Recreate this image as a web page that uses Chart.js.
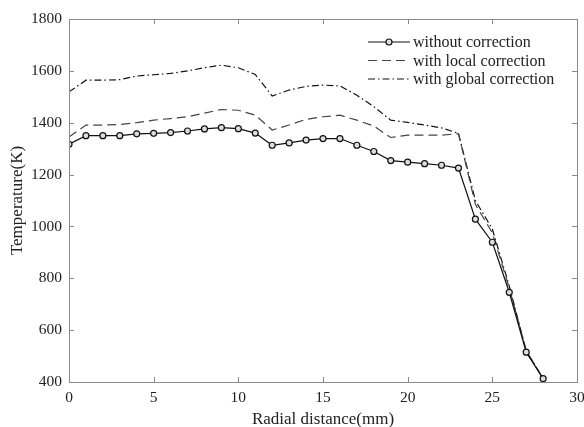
<!DOCTYPE html>
<html>
<head>
<meta charset="utf-8">
<script src="https://cdn.jsdelivr.net/npm/chart.js"></script>
<style>
  html, body { margin: 0; padding: 0; background: #fff; }
  canvas { display: block; }
</style>
</head>
<body>
<canvas id="chart" width="584" height="427"></canvas>
<script>
// radial distance in mm
const radius = [0, 1, 2, 3, 4, 5, 6, 7, 8, 9, 10, 11, 12, 13, 14, 15, 16, 17, 18, 19, 20, 21, 22, 23, 24, 25, 26, 27, 28];

// temperature (K)
const withoutCorrection = [1317, 1350, 1350, 1350, 1357, 1359, 1362, 1368, 1376, 1381, 1377, 1360, 1313, 1322, 1333, 1339, 1339, 1313, 1289, 1254, 1248, 1242, 1236, 1225, 1028, 939, 746, 515, 413];
const localCorrection = [1345, 1391, 1391, 1393, 1400, 1410, 1416, 1423, 1437, 1451, 1448, 1429, 1372, 1391, 1413, 1423, 1429, 1410, 1387, 1343, 1352, 1352, 1352, 1358, 1085, 975, 762, 522, 413];
const globalCorrection = [1519, 1564, 1564, 1566, 1580, 1585, 1590, 1600, 1612, 1622, 1612, 1586, 1503, 1526, 1540, 1545, 1542, 1506, 1462, 1410, 1401, 1391, 1380, 1359, 1100, 990, 770, 520, 413];

const xTicks = [0, 5, 10, 15, 20, 25, 30];
const yTicks = [400, 600, 800, 1000, 1200, 1400, 1600, 1800];

const seriesLabels = ['without correction', 'with local correction', 'with global correction'];

const serif = '"Liberation Serif", "Times New Roman", serif';
const axisGray = '#8a8a8a';

function toPoints(values) {
    return values.map((v, i) => ({ x: radius[i], y: v }));
}

// box around the plot plus inward ticks on all four sides
const boxPlugin = {
    id: 'box',
    afterDraw(chart) {
        const { ctx, chartArea: a, scales } = chart;
        ctx.save();
        ctx.strokeStyle = axisGray;
        ctx.lineWidth = 1;
        ctx.strokeRect(a.left + 0.5, a.top + 0.5, a.right - a.left, a.bottom - a.top);
        ctx.beginPath();
        xTicks.forEach(t => {
            const px = Math.round(scales.x.getPixelForValue(t)) + 0.5;
            ctx.moveTo(px, a.bottom); ctx.lineTo(px, a.bottom - 5);
            ctx.moveTo(px, a.top); ctx.lineTo(px, a.top + 5);
        });
        yTicks.forEach(t => {
            const py = Math.round(scales.y.getPixelForValue(t)) + 0.5;
            ctx.moveTo(a.left, py); ctx.lineTo(a.left + 5, py);
            ctx.moveTo(a.right, py); ctx.lineTo(a.right - 5, py);
        });
        ctx.stroke();
        ctx.restore();
    }
};

// legend drawn inside the plot, top right, no frame
const legendPlugin = {
    id: 'innerLegend',
    afterDatasetsDraw(chart) {
        const { ctx, chartArea: a } = chart;
        const x0 = a.right - 209, x1 = a.right - 167;
        ctx.save();
        ctx.font = '16px ' + serif;
        ctx.textBaseline = 'middle';
        chart.data.datasets.forEach((ds, i) => {
            const y = a.top + 23 + i * 18.5;
            ctx.strokeStyle = ds.borderColor;
            ctx.lineWidth = ds.borderWidth;
            ctx.setLineDash(ds.borderDash || []);
            ctx.beginPath();
            ctx.moveTo(x0, y); ctx.lineTo(x1, y);
            ctx.stroke();
            ctx.setLineDash([]);
            if (ds.pointRadius > 0) {
                ctx.beginPath();
                ctx.arc((x0 + x1) / 2, y, ds.pointRadius, 0, Math.PI * 2);
                ctx.fillStyle = ds.pointBackgroundColor;
                ctx.fill();
                ctx.lineWidth = ds.pointBorderWidth;
                ctx.strokeStyle = ds.pointBorderColor;
                ctx.stroke();
            }
            ctx.fillStyle = '#222';
            ctx.fillText(ds.label, x1 + 3, y + 1);
        });
        ctx.restore();
    }
};

new Chart(document.getElementById('chart').getContext('2d'), {
    type: 'line',
    data: {
        datasets: [
            {
                label: seriesLabels[0],
                data: toPoints(withoutCorrection),
                borderColor: '#111',
                borderWidth: 1.2,
                pointRadius: 3,
                pointBackgroundColor: '#ddd',
                pointBorderColor: '#111',
                pointBorderWidth: 1.2,
                fill: false,
                order: 1
            },
            {
                label: seriesLabels[1],
                data: toPoints(localCorrection),
                borderColor: '#444',
                borderWidth: 1.2,
                borderDash: [9, 5],
                pointRadius: 0,
                fill: false,
                order: 2
            },
            {
                label: seriesLabels[2],
                data: toPoints(globalCorrection),
                borderColor: '#111',
                borderWidth: 1.2,
                borderDash: [7, 3, 1.5, 3],
                pointRadius: 0,
                fill: false,
                order: 3
            }
        ]
    },
    options: {
        responsive: false,
        animation: false,
        maintainAspectRatio: false,
        layout: { padding: { top: 19, right: 7, left: 0, bottom: 0 } },
        plugins: {
            legend: { display: false },
            tooltip: { enabled: false }
        },
        scales: {
            x: {
                type: 'linear',
                min: 0,
                max: 30,
                grid: { display: false, drawTicks: false },
                border: { display: false },
                afterBuildTicks: s => { s.ticks = xTicks.map(v => ({ value: v })); },
                afterFit: s => { s.height = 45; s.paddingLeft = 0; s.paddingRight = 0; },
                ticks: {
                    padding: 7,
                    color: '#222',
                    font: { family: serif, size: 15.5 },
                    maxRotation: 0,
                    callback: v => String(v)
                },
                title: {
                    display: true,
                    text: 'Radial distance(mm)',
                    color: '#222',
                    font: { family: serif, size: 17, lineHeight: 1 },
                    padding: { top: 0, bottom: -1 }
                }
            },
            y: {
                type: 'linear',
                min: 400,
                max: 1800,
                grid: { display: false, drawTicks: false },
                border: { display: false },
                afterBuildTicks: s => { s.ticks = yTicks.map(v => ({ value: v })); },
                afterFit: s => { s.width = 69; s.paddingTop = 0; s.paddingBottom = 0; },
                ticks: {
                    padding: 7,
                    color: '#222',
                    font: { family: serif, size: 15.5 },
                    callback: v => String(v)
                },
                title: {
                    display: true,
                    text: 'Temperature(K)',
                    color: '#222',
                    font: { family: serif, size: 17, lineHeight: 1 },
                    padding: { top: 9.5, bottom: 0 }
                }
            }
        }
    },
    plugins: [boxPlugin, legendPlugin]
});
</script>
</body>
</html>
